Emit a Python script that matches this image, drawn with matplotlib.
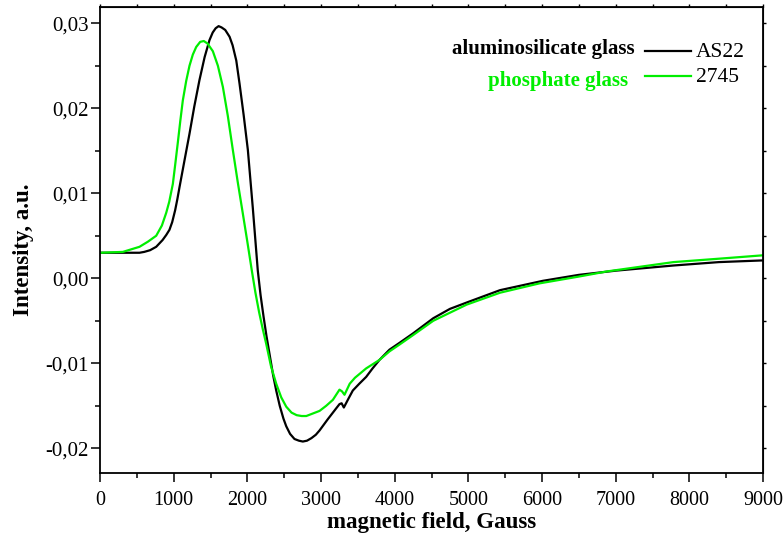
import matplotlib
matplotlib.use("Agg")
import matplotlib.pyplot as plt
from matplotlib.ticker import MultipleLocator

plt.rcParams['font.family'] = ['Liberation Serif', 'DejaVu Serif']

# --- data ---
as22_field = [0, 300, 536, 600, 680, 763, 850, 900, 943, 980, 1020, 1050, 1079, 1150, 1215,
              1280, 1350, 1420, 1486, 1530, 1570, 1610, 1650, 1700, 1759, 1800, 1850, 1894,
              1950, 2007, 2075, 2142, 2180, 2220, 2260, 2307, 2350, 2392, 2440, 2490, 2528,
              2580, 2640, 2700, 2753, 2810, 2870, 2930, 2980, 3090, 3206, 3251, 3280, 3310,
              3370, 3432, 3520, 3613, 3700, 3794, 3929, 4065, 4247, 4524, 4750, 4994, 5430,
              6012, 6500, 7008, 7783, 8400, 9000]
as22_int = [0.0030, 0.0030, 0.0030, 0.0031, 0.0033, 0.0037, 0.0045, 0.0051, 0.0057, 0.0066,
            0.0080, 0.0093, 0.0107, 0.0140, 0.0170, 0.0202, 0.0233, 0.0260, 0.0280, 0.0289,
            0.0294, 0.02965, 0.0295, 0.0292, 0.0284, 0.0274, 0.0256, 0.0229, 0.0192, 0.0151,
            0.0082, 0.0009, -0.0020, -0.0045, -0.0068, -0.0092, -0.0114, -0.0132, -0.0150,
            -0.0165, -0.0174, -0.0183, -0.0189, -0.0191, -0.0192, -0.0191, -0.0188, -0.0184,
            -0.0179, -0.0166, -0.0153, -0.0148, -0.0147, -0.0152, -0.0142, -0.0132, -0.0124,
            -0.0116, -0.0106, -0.0096, -0.0084, -0.0076, -0.0065, -0.0047, -0.0036, -0.0028,
            -0.0014, -0.0003, 0.0004, 0.0009, 0.0015, 0.0019, 0.0021]

p2745_field = [0, 310, 536, 650, 763, 840, 899, 940, 989, 1020, 1057, 1090, 1124, 1170, 1215,
               1260, 1306, 1360, 1409, 1460, 1532, 1600, 1668, 1735, 1803, 1870, 1939, 2000,
               2061, 2110, 2160, 2210, 2256, 2320, 2392, 2460, 2528, 2600, 2670, 2738, 2800,
               2860, 2920, 2980, 3070, 3161, 3251, 3285, 3319, 3390, 3461, 3613, 3794, 3929,
               4065, 4247, 4524, 4977, 5430, 5966, 6500, 6878, 7783, 8400, 9000]
p2745_int = [0.0030, 0.0031, 0.0037, 0.0043, 0.0050, 0.0062, 0.0077, 0.0090, 0.0111, 0.0133,
             0.0160, 0.0185, 0.0209, 0.0232, 0.0250, 0.0263, 0.0272, 0.0278, 0.0279, 0.0276,
             0.0267, 0.0250, 0.0225, 0.0191, 0.0151, 0.0113, 0.0076, 0.0043, 0.0009, -0.0017,
             -0.0040, -0.0060, -0.0077, -0.0103, -0.0124, -0.0140, -0.0151, -0.0158, -0.0161,
             -0.0162, -0.0162, -0.0160, -0.0158, -0.0156, -0.0150, -0.0143, -0.0131, -0.0133,
             -0.0137, -0.0124, -0.0117, -0.0106, -0.0096, -0.0086, -0.0078, -0.0067, -0.0050,
             -0.0031, -0.0017, -0.0006, 0.0002, 0.0008, 0.0019, 0.0023, 0.0027]

xticks = [0, 1000, 2000, 3000, 4000, 5000, 6000, 7000, 8000, 9000]
xtick_labels = ['0', '1000', '2000', '3000', '4000', '5000', '6000', '7000', '8000', '9000']
yticks = [-0.02, -0.01, 0.00, 0.01, 0.02, 0.03]
ytick_labels = ['-0,02', '-0,01', '0,00', '0,01', '0,02', '0,03']

GREEN = '#00ee00'

fig = plt.figure(figsize=(7.83, 5.35), dpi=100)
ax = fig.add_axes([100 / 783, (535 - 473) / 535, (763 - 100) / 783, (473 - 7) / 535])

ax.plot(as22_field, as22_int, color='black', lw=1.6)
ax.plot(p2745_field, p2745_int, color=GREEN, lw=1.6)

ax.set_xlim(0, 9000)
ax.set_ylim(-0.0229, 0.0319)
ax.set_xticks(xticks)
ax.set_xticklabels(xtick_labels)
ax.set_yticks(yticks)
ax.set_yticklabels(ytick_labels)
ax.xaxis.set_minor_locator(MultipleLocator(500))
ax.yaxis.set_minor_locator(MultipleLocator(0.005))
ax.tick_params(which='major', direction='out', length=6.5, width=1.1, labelsize=14.5)
ax.tick_params(axis='y', which='major', labelsize=15, pad=1.5)
ax.tick_params(axis='x', which='major', pad=6.5)
ax.tick_params(which='minor', direction='out', length=3.6, width=1.1)
for s in ax.spines.values():
    s.set_linewidth(1.3)

# small outward ticks on top and right
top = ax.secondary_xaxis('top')
top.set_xticks(xticks)
top.xaxis.set_minor_locator(MultipleLocator(500))
top.tick_params(which='both', direction='out', length=2.5, width=1.0, labeltop=False)
top.set_xticklabels([])
right = ax.secondary_yaxis('right')
right.set_yticks(yticks)
right.yaxis.set_minor_locator(MultipleLocator(0.005))
right.tick_params(which='both', direction='out', length=2.5, width=1.0, labelright=False)
right.set_yticklabels([])

ax.set_xlabel('magnetic field, Gauss', fontsize=16.5, fontweight='bold', labelpad=1.5)
ax.set_ylabel('Intensity, a.u.', fontsize=16.5, fontweight='bold')
ax.yaxis.set_label_coords((34 - 100) / 663, 0.48)

# legend (Origin-style)
fig.text(635 / 783, 1 - 49 / 535, 'aluminosilicate glass', ha='right', va='center',
         fontsize=15, fontweight='bold', color='black')
fig.text(628 / 783, 1 - 81 / 535, 'phosphate glass', ha='right', va='center',
         fontsize=15, fontweight='bold', color=GREEN)
fig.lines.append(plt.Line2D([645 / 783, 691 / 783], [1 - 51 / 535, 1 - 51 / 535],
                            transform=fig.transFigure, color='black', lw=1.6))
fig.lines.append(plt.Line2D([645 / 783, 691 / 783], [1 - 76 / 535, 1 - 76 / 535],
                            transform=fig.transFigure, color=GREEN, lw=1.6))
fig.text(696 / 783, 1 - 52 / 535, 'AS22', ha='left', va='center', fontsize=15.5, color='black')
fig.text(696 / 783, 1 - 77 / 535, '2745', ha='left', va='center', fontsize=15.5, color='black')

fig.savefig('out.png', dpi=100)
